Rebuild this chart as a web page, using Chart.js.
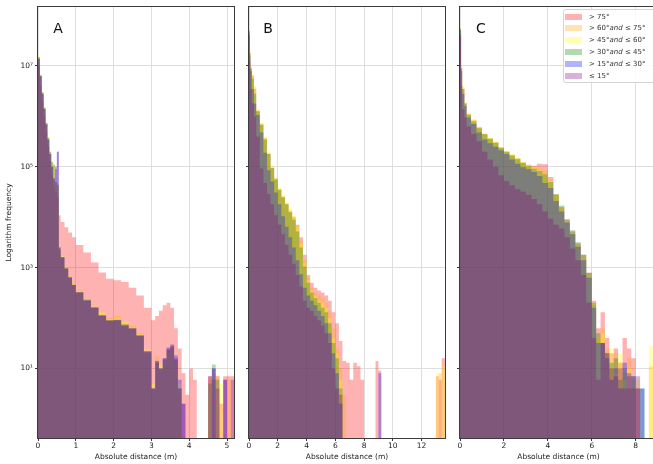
<!DOCTYPE html>
<html>
<head>
<meta charset="utf-8">
<script src="https://cdn.jsdelivr.net/npm/chart.js@4.4.0/dist/chart.umd.min.js"></script>
<style>
  html, body { margin: 0; padding: 0; background: #fff; width: 653px; height: 464px; overflow: hidden; }
  body { position: relative; font-family: 'DejaVu Sans', sans-serif; color: #222; }
  .panel { position: absolute; top: 0; height: 464px; }
  .letter { position: absolute; font-size: 14px; color: #111; transform: translate(-50%, -50%); }
  #legend { position: absolute; left: 563px; top: 9px; width: 96px; height: 74px; box-sizing: border-box;
            border: 1px solid #d4d4d4; border-radius: 3px; background: rgba(255,255,255,0.85); }
  #legend .row { position: absolute; left: 0; height: 10px; width: 100%; }
  #legend .patch { position: absolute; left: 1px; top: 2px; width: 17px; height: 6px; }
  #legend .txt { position: absolute; left: 25px; top: 0; font-size: 7px; line-height: 10px; white-space: nowrap; color: #333; }
</style>
</head>
<body>
<div class="panel" style="left:0;width:240px"><canvas id="chartA" width="240" height="464"></canvas></div>
<div class="panel" style="left:236px;width:214px"><canvas id="chartB" width="214" height="464"></canvas></div>
<div class="panel" style="left:448px;width:215px"><canvas id="chartC" width="215" height="464"></canvas></div>
<div class="letter" style="left:58px;top:28px">A</div>
<div class="letter" style="left:268px;top:28px">B</div>
<div class="letter" style="left:481px;top:28px">C</div>
<div id="legend"></div>
<script>
// angle classes, in legend order
const seriesLabels = ['> 75°', '> 60° and ≤ 75°', '> 45° and ≤ 60°', '> 30° and ≤ 45°', '> 15° and ≤ 30°', '≤ 15°'];
const legendLabels = ['&gt; 75°', '&gt; 60°<i>and</i> ≤ 75°', '&gt; 45°<i>and</i> ≤ 60°',
                      '&gt; 30°<i>and</i> ≤ 45°', '&gt; 15°<i>and</i> ≤ 30°', '≤ 15°'];
const fillColors = ['rgba(255,0,0,0.3)', 'rgba(255,165,0,0.3)', 'rgba(255,255,0,0.3)',
                    'rgba(0,128,0,0.3)', 'rgba(0,0,255,0.3)', 'rgba(128,0,128,0.3)'];

const yTicks = [10, 1000, 100000, 10000000];
const yTickLabels = ['10¹', '10³', '10⁵', '10⁷'];
const yMin = 0.417, yMax = 1.48e8;
const EMPTY_BIN = 0.05; // empty bins sit below the axis floor

// panel A: bin left edges (last entry = axis end) and counts per class
const edgesA = [0, 0.05, 0.1, 0.15, 0.2, 0.25, 0.3, 0.35, 0.4, 0.45, 0.5, 0.55, 0.6, 0.7, 0.8, 0.9, 1, 1.2, 1.4, 1.6, 1.8, 2, 2.2, 2.4, 2.6, 2.8, 3, 3.1, 3.2, 3.3, 3.4, 3.5, 3.6, 3.7, 3.8, 3.9, 4, 4.1, 4.2, 4.5, 4.6, 4.7, 4.8, 4.9, 5, 5.1, 5.185];
const redA    = [1e7, 4e6, 2e6, 1e6, 5e5, 2.5e5, 1.3e5, 7e4, 4e4, 3.2e4, 2.5e4, 1.1e4, 8000, 6300, 5000, 4000, 2800, 2000, 1260, 800, 600, 560, 520, 400, 280, 160, 90, 110, 140, 180, 200, 160, 63, 25, 8, 3, 10, 6, 0, 7, 6, 7, 2, 7, 7, 7];
const orangeA = [1.5e7, 6.5e6, 3e6, 1.5e6, 7.5e5, 3.8e5, 2e5, 1.2e5, 1e5, 5e4, 4.5e4, 2200, 1500, 1000, 650, 480, 350, 240, 170, 120, 100, 110, 80, 70, 50, 20, 3, 18, 8, 12, 22, 30, 14, 3, 0, 0, 0, 0, 0, 6, 0, 7, 0, 0, 6, 0];
const yellowA = [1.6e7, 6.8e6, 3.1e6, 1.5e6, 7.6e5, 3.9e5, 2e5, 1.3e5, 1.1e5, 5e4, 4.5e4, 2400, 1700, 1000, 680, 470, 340, 230, 170, 130, 95, 100, 85, 65, 48, 24, 5, 12, 12, 14, 20, 25, 12, 5, 0, 0, 0, 0, 0, 0, 8, 0, 5, 0, 0, 0];
const greenA  = [1.5e7, 6.6e6, 3e6, 1.5e6, 7.4e5, 3.8e5, 2e5, 1.25e5, 1.1e5, 5e4, 4.3e4, 2300, 1600, 980, 660, 460, 330, 230, 165, 115, 90, 92, 75, 62, 46, 21, 4, 14, 10, 15, 23, 26, 15, 4, 0, 0, 0, 0, 0, 5, 12, 6, 0, 0, 0, 0];
const blueA   = [1.4e7, 6.2e6, 2.8e6, 1.4e6, 7e5, 3.5e5, 1.8e5, 1e5, 6e4, 1e5, 2e5, 2500, 1600, 960, 640, 450, 320, 225, 160, 112, 88, 90, 72, 62, 44, 22, 4, 13, 10, 16, 26, 30, 18, 6, 2, 0, 0, 0, 0, 0, 10, 0, 0, 6, 0, 0];
const purpleA = [1.4e7, 6.3e6, 2.8e6, 1.4e6, 7e5, 3.5e5, 1.8e5, 1e5, 5.6e4, 9e4, 2e5, 2500, 1600, 950, 630, 450, 320, 220, 160, 110, 90, 90, 70, 63, 45, 22, 4, 14, 10, 16, 25, 28, 16, 4, 2, 0, 0, 0, 0, 7, 10, 4, 0, 6, 0, 6];

// panel B
const edgesB = [0, 0.05, 0.1, 0.2, 0.35, 0.5, 0.75, 1, 1.25, 1.5, 1.75, 2, 2.25, 2.5, 2.75, 3, 3.25, 3.5, 3.75, 4, 4.25, 4.5, 4.75, 5, 5.25, 5.5, 5.75, 6, 6.25, 6.5, 6.75, 7, 7.25, 7.5, 7.75, 8, 8.8, 9, 9.2, 13, 13.2, 13.4, 13.63];
const redB    = [5e7, 1.8e7, 8.9e6, 6.3e6, 3.5e6, 1.26e6, 6.9e5, 3.6e5, 1.8e5, 9.5e4, 5.8e4, 3.5e4, 2.5e4, 1.8e4, 1.3e4, 1e4, 7100, 4000, 1800, 710, 500, 400, 350, 320, 280, 220, 130, 79, 35, 14, 13, 6, 13, 11, 6, 0, 14, 9, 0, 7, 6, 16];
const orangeB = [5.2e7, 1.9e7, 9.5e6, 6.6e6, 3.8e6, 1.35e6, 7.2e5, 3.8e5, 1.9e5, 1e5, 6e4, 3.7e4, 2.6e4, 1.9e4, 1.4e4, 1.05e4, 6900, 3400, 1400, 630, 400, 320, 280, 250, 200, 140, 63, 25, 10, 3, 0, 0, 0, 0, 0, 0, 0, 0, 0, 0, 8, 0];
const yellowB = [6e7, 2e7, 1e7, 7.1e6, 4e6, 1.4e6, 7.6e5, 4e5, 2e5, 1.07e5, 6.3e4, 3.9e4, 2.8e4, 2e4, 1.5e4, 1.05e4, 6600, 3000, 1260, 560, 350, 280, 220, 200, 160, 100, 40, 20, 6, 0, 0, 0, 0, 0, 0, 0, 0, 0, 0, 8, 0, 11];
const greenB  = [5e7, 1.8e7, 8.9e6, 5.6e6, 2.8e6, 1.26e6, 6.8e5, 3.5e5, 1.8e5, 9.5e4, 5.6e4, 3.5e4, 2.5e4, 1.8e4, 1.26e4, 8900, 5200, 2500, 1050, 500, 320, 250, 200, 160, 130, 79, 32, 16, 4, 0, 0, 0, 0, 0, 0, 0, 0, 0, 0, 0, 0, 0];
const blueB   = [4.5e7, 1.6e7, 7.9e6, 3.5e6, 1.8e6, 1.07e6, 4.8e5, 1.9e5, 8.5e4, 5.1e4, 3.1e4, 1.8e4, 1.05e4, 6500, 4000, 2500, 1400, 740, 400, 280, 220, 180, 140, 110, 79, 50, 20, 8, 2, 0, 0, 0, 0, 0, 0, 0, 0, 8, 0, 0, 0, 0];
const purpleB = [4e7, 1.26e7, 3.5e6, 1.8e6, 1e6, 4e5, 9.3e4, 4.8e4, 2.9e4, 1.8e4, 1.1e4, 7200, 4600, 2800, 1800, 1200, 710, 420, 220, 160, 140, 110, 90, 71, 50, 32, 10, 4, 3, 0, 0, 0, 0, 0, 0, 0, 0, 0, 0, 0, 0, 0];

// panel C
const edgesC = [0, 0.05, 0.1, 0.2, 0.3, 0.5, 0.75, 1, 1.25, 1.5, 1.75, 2, 2.25, 2.5, 2.75, 3, 3.25, 3.5, 3.75, 4, 4.25, 4.5, 4.75, 5, 5.25, 5.5, 5.75, 6, 6.2, 6.4, 6.6, 6.8, 7, 7.2, 7.4, 7.6, 7.8, 8, 8.2, 8.4, 8.6, 8.97];
const redC    = [4.5e7, 8.9e6, 3.5e6, 1.8e6, 1.1e6, 8.3e5, 6e5, 4.5e5, 3.6e5, 3e5, 2.4e5, 2e5, 1.66e5, 1.4e5, 1.2e5, 1.1e5, 1.05e5, 1.15e5, 1.12e5, 6.3e4, 2.8e4, 1.6e4, 8900, 5200, 3000, 1800, 790, 220, 63, 130, 40, 20, 25, 13, 40, 25, 16, 4, 0, 0, 0];
const orangeC = [5e7, 9.5e6, 3.8e6, 1.86e6, 1.15e6, 8.7e5, 6.2e5, 4.6e5, 3.7e5, 3.1e5, 2.45e5, 2.04e5, 1.74e5, 1.5e5, 1.23e5, 1.05e5, 9.5e4, 9.3e4, 8.5e4, 5.6e4, 2.8e4, 1.5e4, 7900, 4800, 2800, 1600, 720, 180, 40, 63, 25, 10, 20, 13, 8, 16, 6, 4, 0, 0, 11];
const yellowC = [6e7, 1e7, 4e6, 1.9e6, 1.12e6, 8.5e5, 6e5, 4.6e5, 3.8e5, 3.2e5, 2.5e5, 2.1e5, 1.8e5, 1.5e5, 1.26e5, 1.07e5, 9.5e4, 8.5e4, 7.1e4, 5.2e4, 2.8e4, 1.6e4, 8300, 5000, 2800, 1600, 710, 200, 40, 50, 16, 25, 8, 20, 6, 10, 4, 6, 0, 0, 28];
const greenC  = [5.6e7, 8.9e6, 3.5e6, 1.8e6, 1.07e6, 7.9e5, 5.8e5, 4.4e5, 3.6e5, 3e5, 2.4e5, 2e5, 1.7e5, 1.45e5, 1.2e5, 1.02e5, 9.1e4, 8.3e4, 7.1e4, 5e4, 2.9e4, 1.7e4, 9100, 5500, 3200, 1800, 790, 200, 50, 32, 20, 13, 16, 6, 10, 4, 7, 0, 4, 0, 0];
const blueC   = [5.2e7, 7.9e6, 2.8e6, 1.6e6, 9.5e5, 7.1e5, 4.8e5, 3.5e5, 2.95e5, 2.5e5, 2.14e5, 1.8e5, 1.4e5, 1.15e5, 9.8e4, 8.9e4, 7.9e4, 6.6e4, 4.8e4, 3.8e4, 2.1e4, 1.3e4, 7900, 4600, 2600, 1400, 630, 160, 32, 32, 16, 6, 10, 4, 13, 8, 7, 4, 4, 0, 0];
const purpleC = [4e7, 4e6, 1.4e6, 9.5e5, 6.3e5, 4.5e5, 3.2e5, 2e5, 1.4e5, 1e5, 6.8e4, 5.2e4, 4.3e4, 3.6e4, 3.2e4, 2.8e4, 2.3e4, 1.8e4, 1.3e4, 9300, 7100, 6000, 4000, 2400, 1400, 710, 200, 40, 6, 32, 20, 10, 7, 10, 4, 7, 4, 7, 0, 0, 0];

const xTicksA = [0, 1, 2, 3, 4, 5];
const xTicksB = [0, 2, 4, 6, 8, 10, 12];
const xTicksC = [0, 2, 4, 6, 8];

Chart.defaults.font.family = "'DejaVu Sans', sans-serif";
Chart.defaults.color = '#222';

// matplotlib-style box around each plot area
const framePlugin = {
  id: 'frame',
  afterDraw(chart) {
    const { ctx, chartArea: a } = chart;
    ctx.save();
    ctx.strokeStyle = '#3c3c3c';
    ctx.lineWidth = 1;
    ctx.strokeRect(a.left - 0.5, a.top - 0.5, a.right - a.left + 1, a.bottom - a.top + 1);
    ctx.restore();
  }
};

function drawPanel(canvasId, edges, series, xMax, xTicks, opts) {
  const datasets = series.map((vals, k) => ({
    label: seriesLabels[k],
    data: edges.map((x, i) => ({ x: x, y: vals[Math.min(i, vals.length - 1)] || EMPTY_BIN })),
    stepped: true,
    fill: 'start',
    backgroundColor: fillColors[k],
    borderWidth: 0,
    pointRadius: 0,
    order: series.length - k
  }));

  return new Chart(document.getElementById(canvasId), {
    type: 'line',
    data: { datasets: datasets },
    options: {
      responsive: false,
      animation: false,
      layout: { padding: { top: 7, right: opts.padRight, left: 0, bottom: 0 } },
      plugins: { legend: { display: false }, tooltip: { enabled: false } },
      scales: {
        x: {
          type: 'linear', min: 0, max: xMax,
          afterBuildTicks: s => { s.ticks = xTicks.map(v => ({ value: v })); },
          afterFit: s => { s.height = 26; },
          grid: { color: '#dedede', tickColor: '#333', tickLength: 3 },
          border: { display: false },
          ticks: { padding: 1, maxRotation: 0, font: { size: 7.5 } },
          title: { display: true, text: 'Absolute distance (m)', font: { size: 7.5 }, padding: { top: 0, bottom: 2 } }
        },
        y: {
          type: 'logarithmic', min: yMin, max: yMax,
          afterBuildTicks: s => { s.ticks = yTicks.map(v => ({ value: v })); },
          afterFit: s => { s.width = opts.yWidth; },
          grid: { color: '#dedede', tickColor: '#333', tickLength: 3 },
          border: { display: false },
          ticks: {
            display: opts.yLabels, padding: 2, font: { size: 7.5 },
            callback: v => yTickLabels[yTicks.indexOf(v)]
          },
          title: { display: opts.yLabels, text: 'Logarithm frequency', font: { size: 7.5 }, padding: { top: 5, bottom: 0 } }
        }
      }
    },
    plugins: [framePlugin]
  });
}

drawPanel('chartA', edgesA, [redA, orangeA, yellowA, greenA, blueA, purpleA], 5.185, xTicksA,
  { yWidth: 38, padRight: 6, yLabels: true });
drawPanel('chartB', edgesB, [redB, orangeB, yellowB, greenB, blueB, purpleB], 13.63, xTicksB,
  { yWidth: 13, padRight: 5, yLabels: false });
drawPanel('chartC', edgesC, [redC, orangeC, yellowC, greenC, blueC, purpleC], 8.97, xTicksC,
  { yWidth: 12, padRight: 6, yLabels: false });

// legend inside panel C
const legend = document.getElementById('legend');
legendLabels.forEach((html, k) => {
  const row = document.createElement('div');
  row.className = 'row';
  row.style.top = (1.5 + k * 11.9) + 'px';
  row.innerHTML = '<span class="patch" style="background:' + fillColors[k] + '"></span>' +
                  '<span class="txt">' + html + '</span>';
  legend.appendChild(row);
});
</script>
</body>
</html>
